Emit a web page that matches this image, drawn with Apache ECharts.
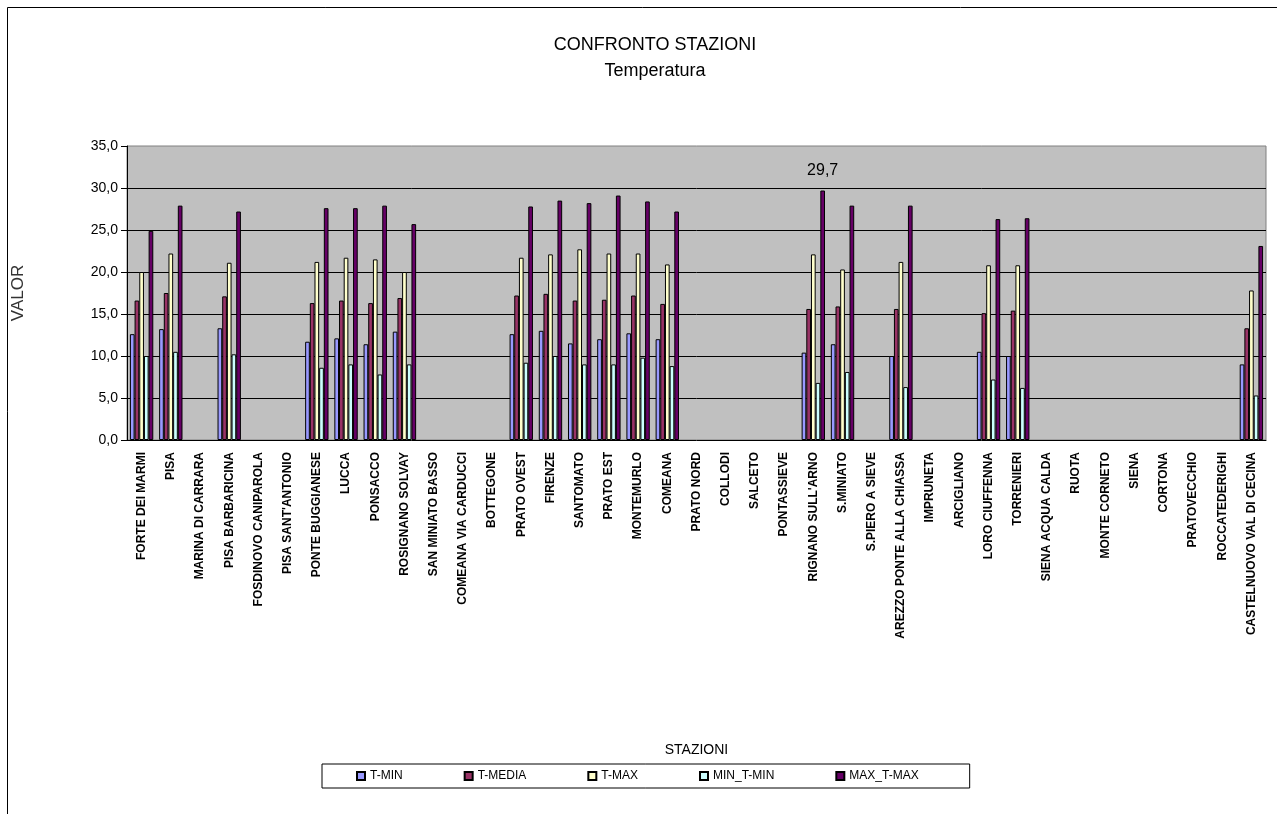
<!DOCTYPE html>
<html>
<head>
<meta charset="utf-8">
<title>Confronto stazioni</title>
<script src="https://cdn.jsdelivr.net/npm/echarts@6/dist/echarts.min.js"></script>
<style>
  html, body { margin: 0; padding: 0; background: #fff; }
  #chart { width: 1277px; height: 814px; }
</style>
</head>
<body>
<div id="chart"></div>
<script>
// stazioni (asse X)
var stazioni = [
  "FORTE DEI MARMI", "PISA", "MARINA DI CARRARA", "PISA BARBARICINA",
  "FOSDINOVO CANIPAROLA", "PISA SANT'ANTONIO", "PONTE BUGGIANESE", "LUCCA",
  "PONSACCO", "ROSIGNANO SOLVAY", "SAN MINIATO BASSO", "COMEANA VIA CARDUCCI",
  "BOTTEGONE", "PRATO OVEST", "FIRENZE", "SANTOMATO", "PRATO EST",
  "MONTEMURLO", "COMEANA", "PRATO NORD", "COLLODI", "SALCETO", "PONTASSIEVE",
  "RIGNANO SULL'ARNO", "S.MINIATO", "S.PIERO A SIEVE",
  "AREZZO PONTE ALLA CHIASSA", "IMPRUNETA", "ARCIGLIANO", "LORO CIUFFENNA",
  "TORRENIERI", "SIENA ACQUA CALDA", "RUOTA", "MONTE CORNETO", "SIENA",
  "CORTONA", "PRATOVECCHIO", "ROCCATEDERIGHI", "CASTELNUOVO VAL DI CECINA"
]

// valori (null = nessun dato)
var tMin = [12.6, 13.2, null, 13.3, null, null, 11.7, 12.1, 11.4, 12.9, null, null, null,
  12.6, 13.0, 11.5, 12.0, 12.7, 12.0, null, null, null, null, 10.4, 11.4, null, 10.0,
  null, null, 10.5, 10.0, null, null, null, null, null, null, null, 9.0]
var tMedia = [16.6, 17.5, null, 17.1, null, null, 16.3, 16.6, 16.3, 16.9, null, null, null,
  17.2, 17.4, 16.6, 16.7, 17.2, 16.2, null, null, null, null, 15.6, 15.9, null, 15.6,
  null, null, 15.1, 15.4, null, null, null, null, null, null, null, 13.3]
var tMax = [20.0, 22.2, null, 21.1, null, null, 21.2, 21.7, 21.5, 20.0, null, null, null,
  21.7, 22.1, 22.7, 22.2, 22.2, 20.9, null, null, null, null, 22.1, 20.3, null, 21.2,
  null, null, 20.8, 20.8, null, null, null, null, null, null, null, 17.8]
var minTMin = [10.0, 10.5, null, 10.2, null, null, 8.6, 9.0, 7.8, 9.0, null, null, null,
  9.2, 10.0, 9.0, 9.0, 9.8, 8.8, null, null, null, null, 6.8, 8.1, null, 6.3,
  null, null, 7.2, 6.2, null, null, null, null, null, null, null, 5.3]
var maxTMax = [24.9, 27.9, null, 27.2, null, null, 27.6, 27.6, 27.9, 25.7, null, null, null,
  27.8, 28.5, 28.2, 29.1, 28.4, 27.2, null, null, null, null, 29.7, 27.9, null, 27.9,
  null, null, 26.3, 26.4, null, null, null, null, null, null, null, 23.1]

var nomiSerie = ["T-MIN", "T-MEDIA", "T-MAX", "MIN_T-MIN", "MAX_T-MAX"]
var colori = ["#9999FF", "#993366", "#FFFFCC", "#CCFFFF", "#660066"]
var etichettaIndice = 23 // 29,7 su RIGNANO SULL'ARNO

var font = "'Liberation Sans', Arial, sans-serif"

function virgola(v) {
  return v.toFixed(1).replace(".", ",")
}

function serie(nome, valori, colore, i) {
  var dati = valori.map(function (v, k) {
    if (v === null) return "-"
    if (i === 4 && k === etichettaIndice) {
      return {
        value: v,
        label: {
          show: true,
          position: "top",
          distance: 12,
          formatter: function (p) { return virgola(p.value) },
          color: "#000",
          fontSize: 16,
          fontFamily: font
        }
      }
    }
    return v
  })
  return {
    name: nome,
    type: "bar",
    data: dati,
    barGap: "0%",
    barCategoryGap: "20%",
    itemStyle: {
      color: colore,
      borderColor: "#000",
      borderWidth: 1
    },
    emphasis: { disabled: true }
  }
}

var myChart = echarts.init(document.getElementById("chart"))
var option = {
  animation: false,
  backgroundColor: "#fff",
  graphic: [
    {
      type: "rect",
      shape: { x: 7.5, y: 7.5, width: 1400, height: 1000 },
      style: { fill: "none", stroke: "#000", lineWidth: 1 },
      silent: true
    }
  ],
  title: {
    text: "CONFRONTO STAZIONI",
    subtext: "Temperatura",
    left: 650,
    textAlign: "center",
    top: 31,
    itemGap: 8,
    textStyle: { fontFamily: font, fontSize: 18, fontWeight: "normal", color: "#000" },
    subtextStyle: { fontFamily: font, fontSize: 18, color: "#000" }
  },
  legend: {
    data: nomiSerie,
    left: 322,
    top: 764,
    orient: "horizontal",
    icon: "rect",
    itemWidth: 8,
    itemHeight: 8,
    itemGap: 61,
    padding: [6, 51, 6, 34],
    borderColor: "#000",
    borderWidth: 1,
    backgroundColor: "#fff",
    textStyle: { fontFamily: font, fontSize: 12, color: "#000" }
  },
  grid: {
    left: 127,
    right: 11,
    top: 146,
    bottom: 374,
    show: true,
    backgroundColor: "#C0C0C0",
    borderColor: "#808080",
    borderWidth: 1
  },
  xAxis: {
    type: "category",
    data: stazioni,
    name: "STAZIONI",
    nameLocation: "middle",
    nameGap: 303,
    nameTextStyle: { fontFamily: font, fontSize: 14, color: "#000" },
    axisLine: { lineStyle: { color: "#000", width: 1 } },
    axisTick: { length: 5, lineStyle: { color: "#000" } },
    axisLabel: {
      interval: 0,
      rotate: 90,
      margin: 12,
      fontFamily: font,
      fontSize: 12,
      fontWeight: "bold",
      color: "#000"
    }
  },
  yAxis: {
    type: "value",
    min: 0,
    max: 35,
    interval: 5,
    name: "VALOR",
    nameLocation: "middle",
    nameRotate: 90,
    nameGap: 100,
    nameTextStyle: { fontFamily: font, fontSize: 17, color: "#333" },
    axisLine: { show: true, lineStyle: { color: "#000", width: 1 } },
    axisTick: { show: true, length: 6, lineStyle: { color: "#000" } },
    axisLabel: {
      margin: 9,
      fontFamily: font,
      fontSize: 14,
      color: "#000",
      formatter: function (v) { return virgola(v) }
    },
    splitLine: {
      show: true,
      showMaxLine: false,
      showMinLine: false,
      lineStyle: { color: "#000", width: 1 }
    }
  },
  series: [
    serie(nomiSerie[0], tMin, colori[0], 0),
    serie(nomiSerie[1], tMedia, colori[1], 1),
    serie(nomiSerie[2], tMax, colori[2], 2),
    serie(nomiSerie[3], minTMin, colori[3], 3),
    serie(nomiSerie[4], maxTMax, colori[4], 4)
  ]
}
myChart.setOption(option)
</script>
</body>
</html>
